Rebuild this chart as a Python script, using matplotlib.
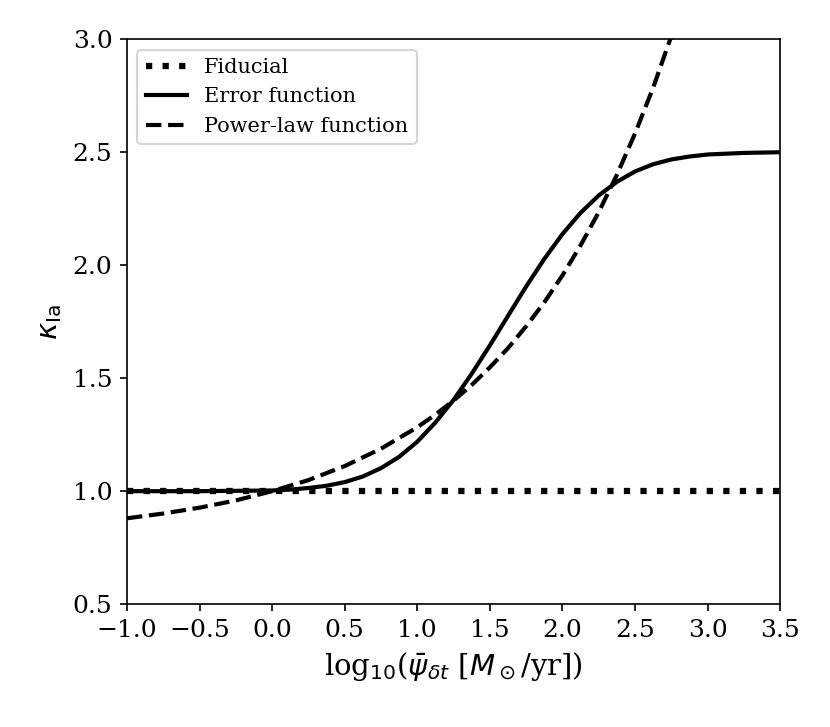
import matplotlib
matplotlib.use("Agg")
import matplotlib.pyplot as plt

# values
fid_x = [-1.0, 3.5]
fid_y = [1.0, 1.0]

erf_x = [-1.0, -0.5, 0.0, 0.125, 0.25, 0.375, 0.5, 0.625, 0.75, 0.875, 1.0,
         1.125, 1.25, 1.375, 1.5, 1.625, 1.75, 1.875, 2.0, 2.125, 2.25,
         2.375, 2.5, 2.625, 2.75, 2.875, 3.0, 3.25, 3.5]
erf_y = [1.0, 1.0, 1.003, 1.007, 1.014, 1.024, 1.040, 1.065, 1.102, 1.152, 1.219,
         1.304, 1.404, 1.520, 1.645, 1.776, 1.906, 2.028, 2.138, 2.232, 2.309,
         2.369, 2.415, 2.447, 2.468, 2.481, 2.490, 2.497, 2.5]

pl_x = [-1.0, -0.75, -0.5, -0.25, 0.0, 0.25, 0.5, 0.75, 1.0, 1.125, 1.25,
        1.375, 1.5, 1.625, 1.75, 1.875, 2.0, 2.125, 2.25, 2.375, 2.5,
        2.625, 2.75]
pl_y = [0.880, 0.901, 0.927, 0.959, 1.000, 1.049, 1.111, 1.188, 1.283, 1.339, 1.401,
        1.470, 1.548, 1.633, 1.730, 1.836, 1.955, 2.088, 2.235, 2.400, 2.583,
        2.786, 3.014]

plt.rcParams['font.family'] = 'serif'
plt.rcParams['font.size'] = 10

fig = plt.figure(figsize=(830 / 150, 727 / 150), dpi=150)
ax = fig.add_axes([0.153, 0.169, 0.787, 0.777])

ax.plot(fid_x, fid_y, color='k', ls=':', lw=3, label='Fiducial')
ax.plot(erf_x, erf_y, color='k', ls='-', lw=2, label='Error function')
ax.plot(pl_x, pl_y, color='k', ls='--', lw=2, label='Power-law function')

ax.set_xlim(-1.0, 3.5)
ax.set_ylim(0.5, 3.0)
ax.set_xticks([-1.0, -0.5, 0.0, 0.5, 1.0, 1.5, 2.0, 2.5, 3.0, 3.5])
ax.set_yticks([0.5, 1.0, 1.5, 2.0, 2.5, 3.0])
ax.tick_params(labelsize=12)

ax.set_xlabel(r'log$_{10}$($\bar{\psi}_{\delta t}$ [$M_\odot$/yr])', fontsize=14)
ax.set_ylabel(r'$\kappa_{\rm Ia}$', fontsize=14)

ax.legend(loc='upper left')

fig.savefig('out.png', dpi=150)
